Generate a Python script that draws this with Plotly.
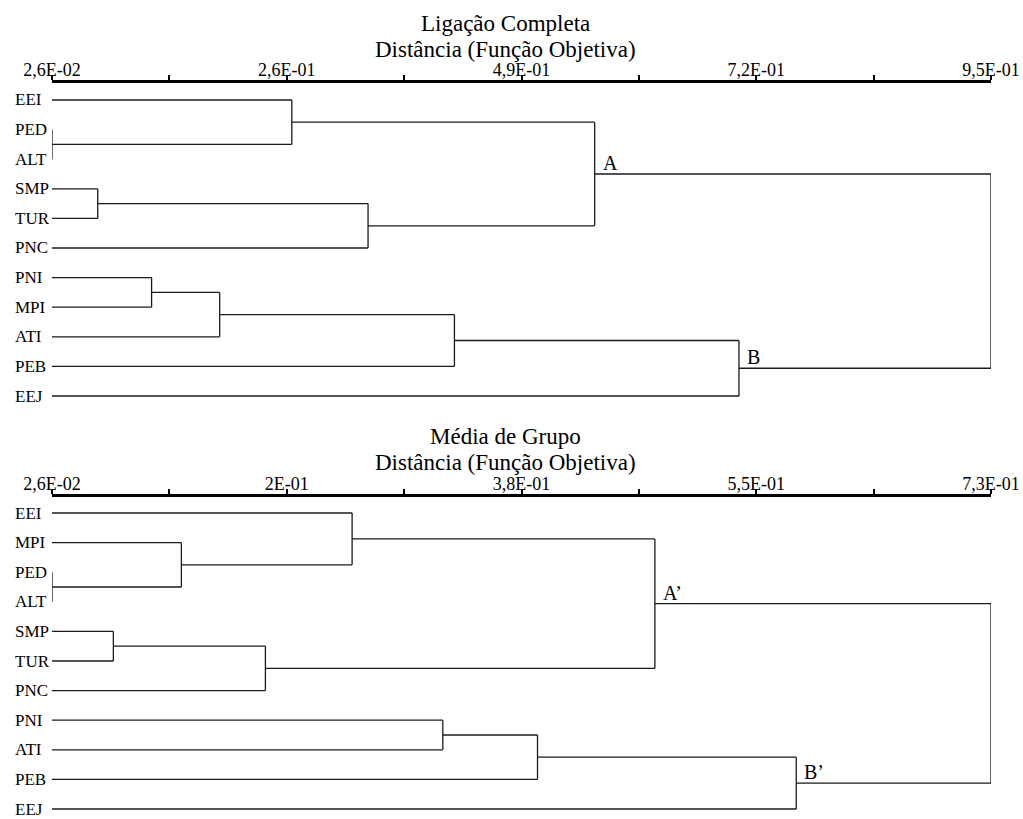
import plotly.graph_objects as go

# ---- Ligação Completa ----
top_leaves = ["EEI", "PED", "ALT", "SMP", "TUR", "PNC", "PNI", "MPI", "ATI", "PEB", "EEJ"]
# merges: cluster ids 0..10 are leaves, new clusters numbered 11, 12, ...
top_left = [1, 3, 6, 13, 0, 12, 14, 15, 17, 18]
top_right = [2, 4, 7, 8, 11, 5, 9, 16, 10, 19]
top_dist = [0.026, 0.071, 0.124, 0.191, 0.262, 0.337, 0.422, 0.560, 0.702, 0.950]
top_tickvals = [0.026, 0.1415, 0.257, 0.3725, 0.488, 0.6035, 0.719, 0.8345, 0.950]
top_ticktext = ["2,6E-02", "", "2,6E-01", "", "4,9E-01", "", "7,2E-01", "", "9,5E-01"]
top_group_labels = {18: "A", 19: "B"}

# ---- Média de Grupo ----
bot_leaves = ["EEI", "MPI", "PED", "ALT", "SMP", "TUR", "PNC", "PNI", "ATI", "PEB", "EEJ"]
bot_left = [2, 4, 1, 12, 0, 7, 16, 15, 17, 18]
bot_right = [3, 5, 11, 6, 13, 8, 9, 14, 10, 19]
bot_dist = [0.026, 0.072, 0.123, 0.186, 0.251, 0.319, 0.390, 0.478, 0.584, 0.730]
bot_tickvals = [0.026, 0.114, 0.202, 0.290, 0.378, 0.466, 0.554, 0.642, 0.730]
bot_ticktext = ["2,6E-02", "", "2E-01", "", "3,8E-01", "", "5,5E-01", "", "7,3E-01"]
bot_group_labels = {18: "A’", 19: "B’"}

W, H = 1023, 819
FONT = "Liberation Serif"
LINE = dict(color="#1a1a1a", width=1.3)
ROW = 29.6          # vertical spacing between leaves (px)
X0, X1 = 52, 991    # horizontal extent of the distance axis (px)


def tree_segments(n_leaves, left, right, dist, x_min):
    """Return x/y polyline lists (None-separated) for a left-to-right dendrogram."""
    pos = {i: float(i) for i in range(n_leaves)}
    hgt = {i: x_min for i in range(n_leaves)}
    xs, ys = [], []
    for k, (a, b, d) in enumerate(zip(left, right, dist)):
        cid = n_leaves + k
        ya, yb = pos[a], pos[b]
        # horizontal arms from each child up to the merge distance
        xs += [hgt[a], d, None, hgt[b], d, None]
        ys += [ya, ya, None, yb, yb, None]
        # vertical connector
        xs += [d, d, None]
        ys += [ya, yb, None]
        pos[cid] = (ya + yb) / 2
        hgt[cid] = d
    return xs, ys, pos, hgt


fig = go.Figure()

panels = [
    dict(leaves=top_leaves, left=top_left, right=top_right, dist=top_dist,
         tv=top_tickvals, tt=top_ticktext, groups=top_group_labels,
         axis_px=83, first_px=100, bottom_px=410, xa="x", ya="y",
         title1="Ligação Completa", t1_px=23, t2_px=49),
    dict(leaves=bot_leaves, left=bot_left, right=bot_right, dist=bot_dist,
         tv=bot_tickvals, tt=bot_ticktext, groups=bot_group_labels,
         axis_px=497, first_px=513, bottom_px=819, xa="x2", ya="y2",
         title1="Média de Grupo", t1_px=436, t2_px=462),
]

annotations = []
for i, p in enumerate(panels):
    n = len(p["leaves"])
    xmin, xmax = p["tv"][0], p["tv"][-1]
    xs, ys, pos, hgt = tree_segments(n, p["left"], p["right"], p["dist"], xmin)
    fig.add_trace(go.Scatter(x=xs, y=ys, mode="lines", line=LINE,
                             hoverinfo="skip", xaxis=p["xa"], yaxis=p["ya"]))

    top_idx = (p["axis_px"] - p["first_px"]) / ROW
    bot_idx = (p["bottom_px"] - p["first_px"]) / ROW
    suffix = "" if i == 0 else "2"
    fig.update_layout(**{
        "xaxis" + suffix: dict(
            domain=[X0 / W, X1 / W], range=[xmin, xmax], side="top",
            anchor="y" + suffix, showline=True, linewidth=2.5, linecolor="black",
            ticks="outside", ticklen=5, tickwidth=1.5, tickcolor="black",
            tickvals=p["tv"], ticktext=p["tt"], showgrid=False, zeroline=False,
            automargin=False, ticklabelstandoff=-8,
            tickfont=dict(family=FONT, size=18, color="black"),
        ),
        "yaxis" + suffix: dict(
            domain=[1 - p["bottom_px"] / H, 1 - p["axis_px"] / H],
            range=[bot_idx, top_idx], anchor="x" + suffix, visible=False,
            showgrid=False, zeroline=False, automargin=False,
        ),
    })

    # leaf names, left aligned
    for j, name in enumerate(p["leaves"]):
        annotations.append(dict(
            x=13 / W, xref="paper", y=j, yref=p["ya"], text=name,
            showarrow=False, xanchor="left", yanchor="middle",
            font=dict(family=FONT, size=17, color="black")))

    # group letters beside their merge nodes
    for cid, lab in p["groups"].items():
        annotations.append(dict(
            x=hgt[cid], xref=p["xa"], y=pos[cid], yref=p["ya"], text=lab,
            showarrow=False, xanchor="left", yanchor="bottom",
            xshift=6, yshift=-2,
            font=dict(family=FONT, size=20, color="black")))

    # titles
    for txt, py in [(p["title1"], p["t1_px"]), ("Distância (Função Objetiva)", p["t2_px"])]:
        annotations.append(dict(
            x=505 / W, xref="paper", y=1 - py / H, yref="paper", text=txt,
            showarrow=False, xanchor="center", yanchor="middle",
            font=dict(family=FONT, size=23, color="black")))

fig.update_layout(
    width=W, height=H, margin=dict(l=0, r=0, t=0, b=0),
    paper_bgcolor="white", plot_bgcolor="white", showlegend=False,
    annotations=annotations,
)

fig.write_html("out.html")
